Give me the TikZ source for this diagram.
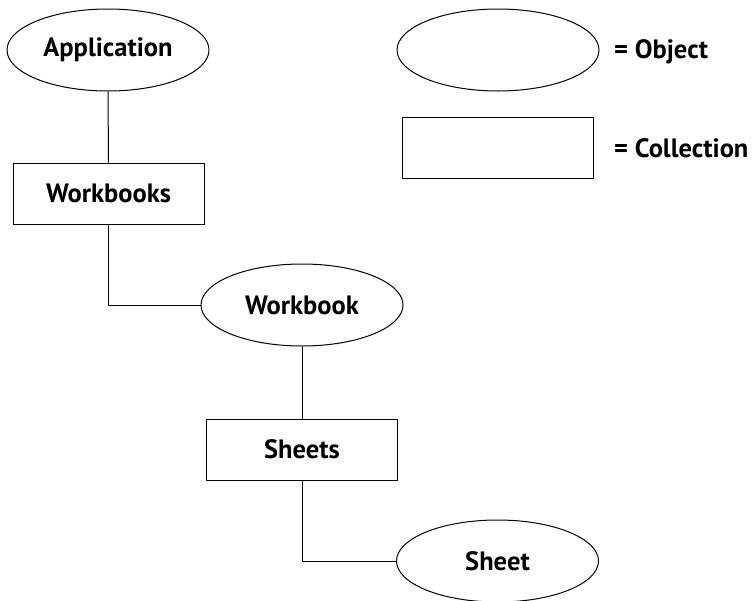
\documentclass[tikz,border=0pt]{standalone}
\usepackage{fontspec}
\setmainfont{PT Sans}
\usetikzlibrary{shapes.geometric}
\begin{document}
\begin{tikzpicture}[x=1pt,y=-1pt,
  txt/.style={font=\fontsize{26.5}{30}\selectfont\bfseries},
  obj/.style={draw,ellipse,minimum width=202pt,minimum height=82pt,inner sep=0pt,line width=1pt,txt},
  coll/.style={draw,rectangle,minimum width=191pt,minimum height=61pt,inner sep=0pt,line width=1pt,txt},
  lab/.style={anchor=west,inner sep=0pt,txt},
  conn/.style={draw,line width=1pt}]
\useasboundingbox (0,0) rectangle (754,600);
\node[obj] (app) at (108,50) {Application};
\node[coll] (wbs) at (108.5,193.5) {Workbooks};
\node[obj] (wb) at (302,305) {Workbook};
\node[coll] (shs) at (302,449.5) {Sheets};
\node[obj] (sh) at (497.5,561) {Sheet};
\node[obj] (lobj) at (498,50) {};
\node[coll] (lcoll) at (497.5,148) {};
\node[lab] (tobj) at (614,52) {= Object};
\node[lab] (tcoll) at (614,148) {= Collection};
\draw[conn] (app.south) -- (wbs.north);
\draw[conn] (wbs.south) |- (wb.west);
\draw[conn] (wb.south) -- (shs.north);
\draw[conn] (shs.south) |- (sh.west);
\end{tikzpicture}
\end{document}
